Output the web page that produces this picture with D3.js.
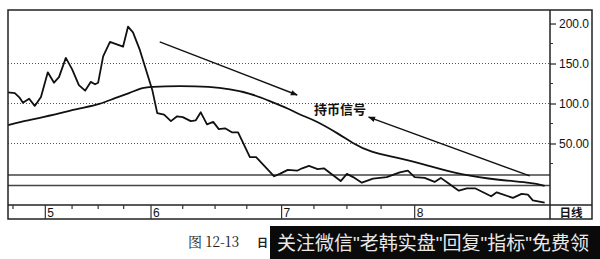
<!DOCTYPE html>
<html><head><meta charset="utf-8">
<script src="https://cdn.jsdelivr.net/npm/d3@7"></script>
<style>body{margin:0;background:#fff}svg{display:block}</style>
</head><body>
<svg id="c" width="600" height="259"></svg>
<script>
// ---- data ----
// trading-day index and daily close
const priceDays = [0,1.1,1.9,2.4,3.4,4.3,5.3,6.4,7.4,8.2,9.3,10.3,11.4,12.4,13.3,14,14.5,15.3,16.4,17.5,18.5,19.3,20.1,21.2,22.2,23.2,24,25.1,26.2,27.2,28.1,29.4,30.2,31,32,33,33.9,34.9,36,37,38.9,39.9,42.8,43.7,45,46.5,47.3,48.4,49.8,50.8,51.8,53.5,54.5,55.5,56.9,58.7,60.9,63,64.3,65.4,67,68.6,69.6,70.7,72.5,73.8,75.1,77.7,78.6,81.2,82.6,83.6,84.4,86.3];
const priceVals = [114,113,107,101,106,97,108,139,126,133,157,143,123,116,127,124,126,159,177,174,171,196,189,167,142,117,88,86,78,84,83,78,79,89,74,77,68,69,64,64,33,33,9,12,17,16,19,22,18,19,13,3,12,8,1,6,8,14,16,8,7,2,7,1,-9,-6,-6,-16,-11,-18,-13,-14,-21,-24];
// moving average line
const maDays = [0,1.9,5.1,8.4,11.6,14.8,17.2,19.6,21.2,22.8,27.7,32.5,35.7,38.9,42.1,45.3,46.9,49.4,53.4,55.3,58.2,63,67.8,72.7,79.1,84.4,86.3];
const maVals = [73,77,82,88,94,99,107,113,119,121,122,121,118,113,103,93,86,79,61,51,39,32,22,11,4,1,-3];
// horizontal reference levels
const levels = [10.6, -2.5];
// axis ticks
const yTicks = [50,100,150,200];
const yTickLabels = ["50.00","100.0","150.0","200.0"];
const yMinor = [25,75,125,175];
const monthDays = [6,23,44,65.4];
const monthLabels = ["5","6","7","8"];
const weekDays = [0.8,10.3,14.5,18.6,28.1,33.3,38.4,49.2,54.5,60];
// annotations
const arrowDown = {from:[24.4,177], to:[46.5,110.6]};
const arrowUp = {from:[83.9,9.4], to:[58,83]};
const signalLabel = {text:"持币信号", at:[53.4,91]};
const periodLabel = "日线";
const caption = ["图 12-13", "日"];
const banner = "关注微信\"老韩实盘\"回复\"指标\"免费领";

// ---- drawing ----
const svg = d3.select("#c");
const L=8, R=550, T=10, B=205, RO=592, BO=219;
const x = d3.scaleLinear().domain([0,87]).range([L,549]);
const y = d3.scaleLinear().domain([-26.9,216.9]).range([B,T]);

svg.append("defs").append("marker").attr("id","ah").attr("viewBox","0 0 10 10")
  .attr("refX",9).attr("refY",5).attr("markerWidth",9).attr("markerHeight",7)
  .attr("orient","auto").attr("markerUnits","userSpaceOnUse")
  .append("path").attr("d","M0,1 L10,5 L0,9 Z").attr("fill","#111");

// grid dotted
svg.append("g").selectAll("line").data(yTicks.slice(0,3)).join("line")
  .attr("x1",L).attr("x2",R).attr("y1",d=>y(d)).attr("y2",d=>y(d))
  .attr("stroke","#555").attr("stroke-width",1).attr("stroke-dasharray","1,2");

// reference levels
svg.append("g").selectAll("line").data(levels).join("line")
  .attr("x1",L).attr("x2",R).attr("y1",d=>y(d)).attr("y2",d=>y(d))
  .attr("stroke","#444").attr("stroke-width",1.4);

const line = d3.line().x(d=>x(d[0])).y(d=>y(d[1]));
const maLine = d3.line().x(d=>x(d[0])).y(d=>y(d[1])).curve(d3.curveBasis);

svg.append("path").datum(maDays.map((d,i)=>[d,maVals[i]])).attr("d",maLine)
  .attr("fill","none").attr("stroke","#111").attr("stroke-width",1.8);
svg.append("path").datum(priceDays.map((d,i)=>[d,priceVals[i]])).attr("d",line)
  .attr("fill","none").attr("stroke","#111").attr("stroke-width",1.8).attr("stroke-linejoin","round");

// arrows
[arrowDown, arrowUp].forEach(a=>{
  svg.append("line").attr("x1",x(a.from[0])).attr("y1",y(a.from[1]))
    .attr("x2",x(a.to[0])).attr("y2",y(a.to[1]))
    .attr("stroke","#111").attr("stroke-width",1.4).attr("marker-end","url(#ah)");
});
svg.append("text").attr("x",x(signalLabel.at[0])).attr("y",y(signalLabel.at[1]))
  .attr("text-anchor","middle").attr("dominant-baseline","middle")
  .attr("font-family","Noto Sans CJK SC").attr("font-weight","bold").attr("font-size",13)
  .attr("fill","#111").text(signalLabel.text);

// frame
const fr = svg.append("g").attr("stroke","#222").attr("stroke-width",1.5).attr("fill","none");
fr.append("rect").attr("x",L).attr("y",T).attr("width",RO-L).attr("height",BO-T);
fr.append("line").attr("x1",L).attr("x2",RO).attr("y1",B).attr("y2",B);
fr.append("line").attr("x1",R).attr("x2",R).attr("y1",T).attr("y2",BO);

// right axis
const yAxis = d3.axisRight(y).tickValues(yTicks).tickSize(6).tickPadding(3)
  .tickFormat((d,i)=>yTickLabels[i]);
const ga = svg.append("g").attr("transform",`translate(${R},0)`).call(yAxis);
ga.select(".domain").remove();
ga.selectAll("line").attr("stroke","#222").attr("stroke-width",1.2);
ga.selectAll("text").attr("font-family","Liberation Sans, Arial").attr("font-size",12).attr("fill","#111");
svg.append("g").selectAll("line").data(yMinor).join("line")
  .attr("x1",R).attr("x2",R+3).attr("y1",d=>y(d)).attr("y2",d=>y(d))
  .attr("stroke","#333").attr("stroke-width",1);

// bottom axis strip
svg.append("g").selectAll("line").data(weekDays).join("line")
  .attr("x1",d=>x(d)).attr("x2",d=>x(d)).attr("y1",B).attr("y2",B+4)
  .attr("stroke","#333").attr("stroke-width",1.2);
svg.append("g").selectAll("line").data(monthDays).join("line")
  .attr("x1",d=>x(d)).attr("x2",d=>x(d)).attr("y1",B).attr("y2",BO)
  .attr("stroke","#333").attr("stroke-width",1.2);
svg.append("g").selectAll("text").data(monthDays).join("text")
  .attr("x",d=>x(d)+2).attr("y",BO-2.5)
  .attr("font-family","Liberation Sans, Arial").attr("font-size",12).attr("fill","#111")
  .text((d,i)=>monthLabels[i]);
svg.append("text").attr("x",(R+RO)/2).attr("y",BO-2.5).attr("text-anchor","middle")
  .attr("font-family","Noto Sans CJK SC").attr("font-weight","bold").attr("font-size",11.5).attr("fill","#111")
  .text(periodLabel);

// caption
svg.append("text").attr("x",188).attr("y",247)
  .attr("font-family","Noto Serif CJK SC, Noto Sans CJK SC").attr("font-size",14).attr("fill","#222")
  .text(caption[0]);
svg.append("text").attr("x",257).attr("y",247)
  .attr("font-family","Noto Sans CJK SC").attr("font-weight","bold").attr("font-size",11).attr("fill","#222")
  .text(caption[1]);

// watermark banner
svg.append("rect").attr("x",270).attr("y",226).attr("width",330).attr("height",33).attr("fill","#0a0a0a");
svg.append("text").attr("x",277).attr("y",250)
  .attr("font-family","Liberation Sans, Noto Sans CJK SC").attr("font-size",19).attr("fill","#e8e8e8")
  .text(banner);
</script>
</body></html>
